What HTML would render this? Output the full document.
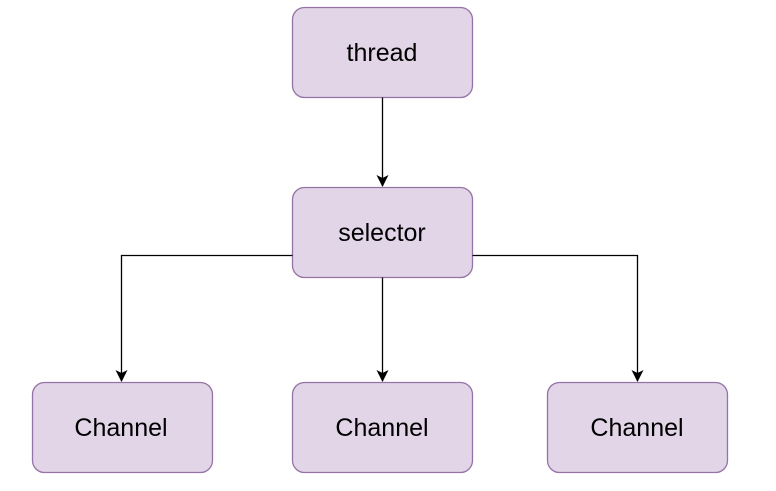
<!DOCTYPE html>
<html><head><meta charset="utf-8"><style>
html,body{margin:0;padding:0;background:#fff;}
svg{display:block;}
text{font-family:"Liberation Sans",Arial,sans-serif;font-size:25px;fill:#000;}
</style></head><body>
<svg width="776" height="491" viewBox="0 0 776 491" xmlns="http://www.w3.org/2000/svg">
<defs><marker id="a" markerWidth="12" markerHeight="14" refX="11" refY="6" orient="auto" markerUnits="userSpaceOnUse"><path d="M0,0 L12,6 L0,12 L3,6 z" fill="#000"/></marker></defs>
<g fill="#e1d5e7" stroke="#9673a6" stroke-width="1.3">
<rect x="292.5" y="7.5" width="180" height="90" rx="12"/>
<rect x="292.5" y="187.5" width="180" height="90" rx="12"/>
<rect x="32.5" y="382.5" width="180" height="90" rx="12"/>
<rect x="292.5" y="382.5" width="180" height="90" rx="12"/>
<rect x="547.5" y="382.5" width="180" height="90" rx="12"/>
</g>
<g fill="none" stroke="#000" stroke-width="1.3">
<path d="M382.5 97.5 V186" marker-end="url(#a)"/>
<path d="M382.5 277.5 V381" marker-end="url(#a)"/>
<path d="M292.5 255.5 H121.5 V381" marker-end="url(#a)"/>
<path d="M472.5 255.5 H637.5 V381" marker-end="url(#a)"/>
</g>
<g text-anchor="middle">
<text x="382" y="61">thread</text>
<text x="382" y="241">selector</text>
<text x="121" y="436">Channel</text>
<text x="382" y="436">Channel</text>
<text x="637" y="436">Channel</text>
</g>
</svg>
</body></html>
